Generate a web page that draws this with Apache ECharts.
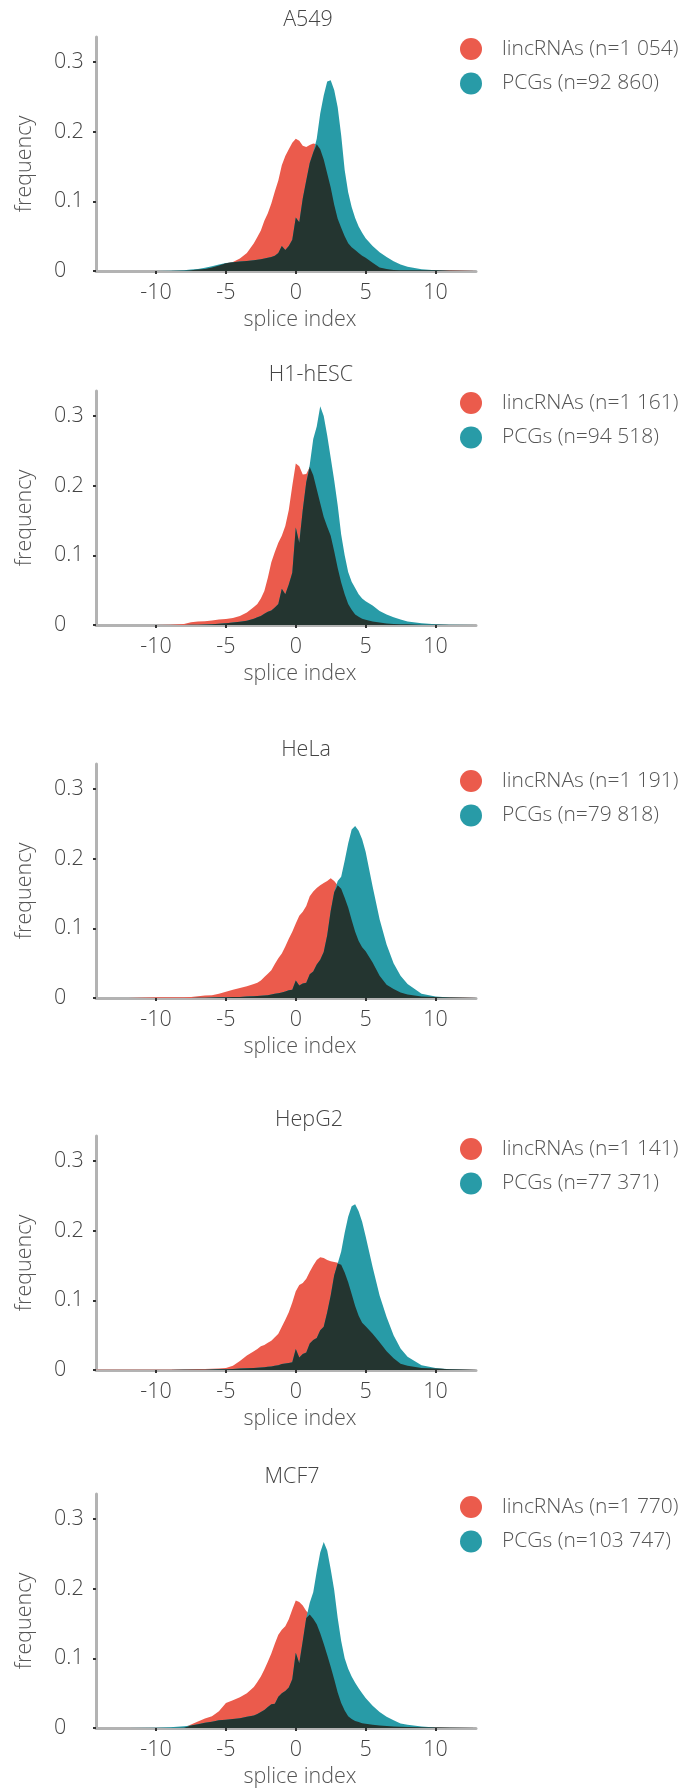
<!DOCTYPE html>
<html><head><meta charset="utf-8">
<script src="https://cdn.jsdelivr.net/npm/echarts@6/dist/echarts.min.js"></script>
<style>html,body{margin:0;padding:0;background:#fff}#c{width:689px;height:1790px}</style>
</head><body><div id="c"></div>
<script>
// ---- data ----
const PANELS = ['A549', 'H1-hESC', 'HeLa', 'HepG2', 'MCF7'];
const LINC_N = ['1 054', '1 161', '1 191', '1 141', '1 770'];
const PCG_N = ['92 860', '94 518', '79 818', '77 371', '103 747'];
const X_TICKS = [-10, -5, 0, 5, 10];
const Y_TICKS = [0, 0.1, 0.2, 0.3];
const X = [-14.3, -12, -10, -9, -8, -7.5, -7, -6.5, -6, -5.5, -5, -4.5, -4, -3.5,
  -3, -2.75, -2.5, -2.25, -2, -1.75, -1.5, -1.25, -1, -0.75, -0.5, -0.25, 0, 0.25, 0.5, 0.75, 1, 1.25, 1.5, 1.75, 2, 2.25, 2.5, 2.75, 3, 3.25, 3.5, 3.75, 4, 4.25, 4.5, 4.75, 5,
  5.5, 6, 6.5, 7, 7.5, 8, 9, 10, 11, 12.9];

const A549_LINC = [0, 0, 0, 0, 0.0005, 0.001, 0.002, 0.003, 0.005, 0.008, 0.011, 0.013, 0.018, 0.026,
  0.04, 0.049, 0.058, 0.072, 0.083, 0.097, 0.114, 0.13, 0.152, 0.165, 0.175, 0.184, 0.19, 0.187, 0.18, 0.178, 0.181, 0.183, 0.182, 0.175, 0.16, 0.14, 0.12, 0.095, 0.075, 0.062, 0.05, 0.04, 0.034, 0.03, 0.026, 0.022, 0.019,
  0.012, 0.005, 0.003, 0.0015, 0.001, 0.001, 0.001, 0.001, 0.001, 0.0005];
const A549_PCG = [0, 0, 0, 0.0005, 0.001, 0.002, 0.003, 0.0045, 0.007, 0.0095, 0.0115, 0.0125, 0.0135, 0.0145,
  0.0155, 0.016, 0.017, 0.018, 0.019, 0.02, 0.022, 0.026, 0.036, 0.03, 0.036, 0.045, 0.077, 0.07, 0.104, 0.13, 0.155, 0.17, 0.19, 0.226, 0.252, 0.272, 0.274, 0.26, 0.235, 0.195, 0.145, 0.113, 0.092, 0.076, 0.064, 0.055, 0.047,
  0.036, 0.027, 0.02, 0.014, 0.0095, 0.006, 0.0025, 0.001, 0.0003, 0];

const H1_LINC = [0, 0, 0, 0.0005, 0.0015, 0.004, 0.005, 0.0055, 0.0065, 0.0078, 0.0085, 0.01, 0.013, 0.018,
  0.026, 0.03, 0.038, 0.049, 0.068, 0.09, 0.105, 0.118, 0.128, 0.142, 0.165, 0.2, 0.232, 0.228, 0.216, 0.217, 0.227, 0.215, 0.195, 0.175, 0.155, 0.141, 0.128, 0.106, 0.082, 0.061, 0.044, 0.03, 0.022, 0.015, 0.012, 0.009, 0.0075,
  0.005, 0.0035, 0.002, 0.0015, 0.001, 0.001, 0.0005, 0.0005, 0, 0];
const H1_PCG = [0, 0, 0, 0, 0, 0.0003, 0.0005, 0.0008, 0.001, 0.0018, 0.0025, 0.0035, 0.0045, 0.006,
  0.009, 0.011, 0.013, 0.016, 0.019, 0.021, 0.025, 0.03, 0.052, 0.044, 0.058, 0.075, 0.14, 0.118, 0.165, 0.205, 0.23, 0.267, 0.285, 0.314, 0.3, 0.272, 0.24, 0.208, 0.172, 0.13, 0.1, 0.076, 0.062, 0.053, 0.044, 0.038, 0.034,
  0.028, 0.02, 0.015, 0.011, 0.008, 0.005, 0.0025, 0.001, 0.0003, 0];

const HELA_LINC = [0, 0, 0.001, 0.001, 0.0012, 0.0016, 0.0025, 0.0035, 0.004, 0.006, 0.009, 0.012, 0.0145, 0.017,
  0.02, 0.022, 0.025, 0.03, 0.035, 0.04, 0.049, 0.057, 0.064, 0.074, 0.085, 0.095, 0.107, 0.118, 0.124, 0.132, 0.146, 0.153, 0.158, 0.162, 0.165, 0.168, 0.172, 0.168, 0.162, 0.157, 0.144, 0.13, 0.112, 0.095, 0.082, 0.073, 0.067,
  0.051, 0.032, 0.019, 0.013, 0.008, 0.005, 0.002, 0.0014, 0.001, 0.0005];
const HELA_PCG = [0, 0, 0, 0, 0, 0, 0.0003, 0.0005, 0.0007, 0.001, 0.0012, 0.0014, 0.0016, 0.002,
  0.0025, 0.003, 0.0032, 0.0036, 0.004, 0.005, 0.006, 0.007, 0.008, 0.0095, 0.011, 0.012, 0.025, 0.018, 0.021, 0.022, 0.034, 0.038, 0.048, 0.055, 0.066, 0.09, 0.125, 0.152, 0.168, 0.174, 0.197, 0.222, 0.242, 0.247, 0.24, 0.228, 0.21,
  0.16, 0.113, 0.077, 0.05, 0.032, 0.02, 0.006, 0.002, 0.0008, 0];

const HEPG2_LINC = [0.0005, 0.0003, 0.0003, 0.0005, 0.0008, 0.001, 0.0013, 0.0015, 0.0017, 0.002, 0.003, 0.006, 0.013, 0.021,
  0.027, 0.03, 0.034, 0.036, 0.039, 0.042, 0.047, 0.052, 0.062, 0.072, 0.083, 0.097, 0.113, 0.122, 0.125, 0.131, 0.141, 0.15, 0.158, 0.162, 0.161, 0.158, 0.156, 0.155, 0.154, 0.151, 0.14, 0.126, 0.109, 0.092, 0.078, 0.068, 0.063,
  0.052, 0.04, 0.027, 0.017, 0.009, 0.006, 0.003, 0.002, 0.001, 0.0005];
const HEPG2_PCG = [0, 0, 0, 0, 0.0002, 0.0003, 0.0004, 0.0005, 0.0007, 0.0009, 0.0012, 0.0015, 0.002, 0.0025,
  0.003, 0.0034, 0.0037, 0.004, 0.0045, 0.005, 0.006, 0.007, 0.0085, 0.0095, 0.01, 0.011, 0.03, 0.018, 0.023, 0.025, 0.038, 0.043, 0.046, 0.057, 0.062, 0.083, 0.107, 0.136, 0.153, 0.17, 0.197, 0.22, 0.235, 0.238, 0.228, 0.213, 0.192,
  0.148, 0.107, 0.076, 0.05, 0.031, 0.019, 0.007, 0.0027, 0.001, 0];

const MCF7_LINC = [0, 0, 0, 0, 0.0005, 0.005, 0.0095, 0.0135, 0.017, 0.024, 0.036, 0.04, 0.044, 0.05,
  0.059, 0.066, 0.074, 0.084, 0.095, 0.107, 0.121, 0.134, 0.141, 0.146, 0.156, 0.17, 0.183, 0.181, 0.176, 0.168, 0.163, 0.157, 0.149, 0.136, 0.121, 0.105, 0.088, 0.07, 0.051, 0.036, 0.025, 0.017, 0.013, 0.01, 0.0085, 0.007, 0.006,
  0.0048, 0.0037, 0.003, 0.0022, 0.0018, 0.0015, 0.0012, 0.001, 0.0005, 0];
const MCF7_PCG = [0, 0, 0.0003, 0.001, 0.0025, 0.0035, 0.0055, 0.0077, 0.009, 0.011, 0.012, 0.013, 0.014, 0.016,
  0.018, 0.02, 0.023, 0.026, 0.03, 0.034, 0.035, 0.045, 0.05, 0.053, 0.058, 0.07, 0.108, 0.093, 0.125, 0.158, 0.18, 0.195, 0.225, 0.252, 0.267, 0.255, 0.228, 0.198, 0.158, 0.125, 0.1, 0.085, 0.074, 0.065, 0.057, 0.05, 0.043,
  0.032, 0.023, 0.016, 0.011, 0.0065, 0.0045, 0.002, 0.0008, 0.0003, 0];

const LINC = [A549_LINC, H1_LINC, HELA_LINC, HEPG2_LINC, MCF7_LINC];
const PCG = [A549_PCG, H1_PCG, HELA_PCG, HEPG2_PCG, MCF7_PCG];

// ---- layout / style ----
const FONT = '"Open Sans", "DejaVu Sans", sans-serif';
const RED = '#EB5B4C', TEAL = '#289BA7', DARK = '#243530';
const GRID_TOP = [37, 391, 764, 1136, 1494];
const GRID_H = 234;
const TITLE_X = [308, 311, 306, 309, 292];
const TITLE_Y = [20, 375, 750, 1120, 1477];
const LEGEND_Y = [49, 403, 781, 1149, 1507];

const chart = echarts.init(document.getElementById('c'), null, {renderer: 'canvas'});
const grids = [], xAxes = [], yAxes = [], series = [], legends = [], graphics = [];
const txt = {fontFamily: FONT, fontSize: 21.5, color: '#444', fontWeight: 300};

PANELS.forEach((name, i) => {
  grids.push({left: 96, width: 380, top: GRID_TOP[i], height: GRID_H});
  xAxes.push({
    type: 'value', gridIndex: i, min: -14.3, max: 12.9,
    splitLine: {show: false},
    axisLine: {show: true, onZero: false, lineStyle: {color: '#b3b3b3', width: 3}},
    axisTick: {show: true, length: 3, lineStyle: {color: '#333', width: 2}, customValues: X_TICKS},
    axisLabel: {...txt, margin: 11, customValues: X_TICKS},
    name: 'splice index', nameLocation: 'middle', nameGap: 38,
    nameTextStyle: {...txt, color: '#555', padding: [0, 0, 0, 28]}
  });
  yAxes.push({
    type: 'value', gridIndex: i, min: 0, max: 0.336,
    splitLine: {show: false},
    axisLine: {show: true, onZero: false, lineStyle: {color: '#b3b3b3', width: 3}},
    axisTick: {show: true, length: 3, lineStyle: {color: '#333', width: 2}, customValues: Y_TICKS},
    axisLabel: {...txt, margin: 42, align: 'left', customValues: Y_TICKS},
    name: 'frequency', nameLocation: 'middle', nameGap: 60,
    nameTextStyle: {...txt, color: '#555', padding: [0, 20, 0, 0]}
  });
  const lName = 'lincRNAs (n=' + LINC_N[i] + ')';
  const pName = 'PCGs (n=' + PCG_N[i] + ')';
  const lData = X.map((x, k) => [x, LINC[i][k]]);
  const pData = X.map((x, k) => [x, PCG[i][k]]);
  const oData = X.map((x, k) => [x, Math.min(LINC[i][k], PCG[i][k])]);
  const base = {type: 'line', xAxisIndex: i, yAxisIndex: i, showSymbol: false, symbol: 'none',
    lineStyle: {width: 0}, silent: true, animation: false};
  series.push({...base, name: lName, data: lData, z: 2, itemStyle: {color: RED}, areaStyle: {color: RED, opacity: 1}});
  series.push({...base, name: pName, data: pData, z: 2, itemStyle: {color: TEAL}, areaStyle: {color: TEAL, opacity: 1}});
  series.push({...base, name: 'overlap ' + i, data: oData, z: 3, itemStyle: {color: DARK}, areaStyle: {color: DARK, opacity: 1}});
  legends.push({
    left: 460, top: LEGEND_Y[i] - 11, orient: 'vertical', icon: 'circle', padding: 0,
    itemWidth: 22, itemHeight: 22, itemGap: 12.5, selectedMode: false,
    data: [lName, pName],
    textStyle: {...txt, fontSize: 21, color: '#555', padding: [0, 0, 0, 15]}
  });
  graphics.push({
    type: 'text', x: TITLE_X[i], y: TITLE_Y[i],
    style: {text: name, fill: '#444', font: '300 21.5px ' + FONT, align: 'center', verticalAlign: 'middle'}
  });
});

chart.setOption({
  animation: false,
  grid: grids, xAxis: xAxes, yAxis: yAxes, series: series,
  legend: legends, graphic: graphics
});
</script></body></html>
